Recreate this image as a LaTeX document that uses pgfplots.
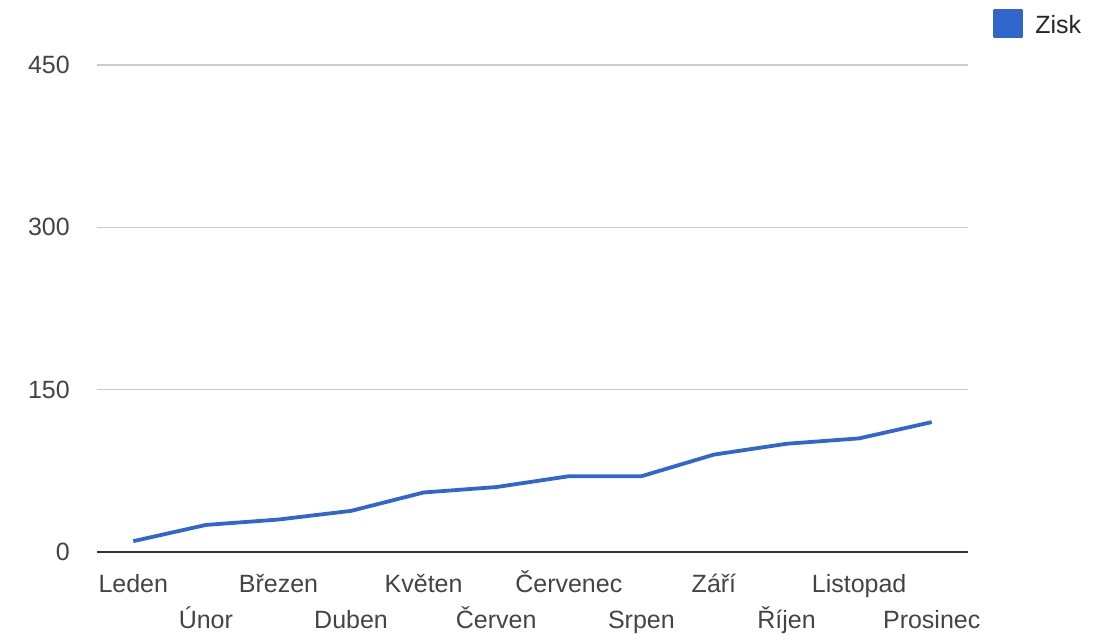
\documentclass[border=0pt]{standalone}
\usepackage{fontspec}
\setmainfont{Liberation Sans}
\usepackage{pgfplots}
\pgfplotsset{compat=1.18}
\definecolor{lineblue}{HTML}{3366CC}
\definecolor{labgray}{HTML}{444444}
\begin{document}
\begin{tikzpicture}
\path[use as bounding box] (0,0) rectangle (1113bp,642bp);
\begin{axis}[
 at={(97bp,90bp)}, anchor=south west,
 scale only axis, width=871bp, height=487bp,
 xmin=-0.5, xmax=11.5, ymin=0, ymax=450,
 clip=false,
 axis line style={draw=none},
 ytick={150,300,450},
 ymajorgrids, grid style={color=black!20, line width=1.2bp},
 extra y ticks={0},
 extra y tick style={grid=major, major grid style={color=black!80, line width=2.5bp}},
 major tick length=0pt,
 /pgf/number format/assume math mode=true,
 tick label style={font=\fontsize{25bp}{30bp}\selectfont, text=labgray},
 yticklabel style={anchor=east, inner sep=0pt, xshift=-27bp},
 xtick={0,2,4,6,8,10},
 xticklabels={Leden,Březen,Květen,Červenec,Září,Listopad},
 extra x ticks={1,3,5,7,9,11},
 extra x tick labels={Únor,Duben,Červen,Srpen,Říjen,Prosinec},
 xticklabel style={anchor=base, inner sep=0pt, yshift=-40bp},
 extra x tick style={grid=none, xticklabel style={yshift=-36bp}},
 legend style={at={(1.029,1.085)}, anchor=west, draw=none, fill=none,
   inner sep=0pt, column sep=12bp, font=\fontsize{25bp}{30bp}\selectfont,
   text=black!85, nodes={inner sep=0pt}},
 legend image code/.code={\fill[lineblue] (0bp,-11.5bp) rectangle (26bp,14.5bp);},
]
\addplot[lineblue, line width=3.8bp, line join=round] coordinates {
(0,10)(1,25)(2,30)(3,38)(4,55)(5,60)(6,70)(7,70)(8,90)(9,100)(10,105)(11,120)};
\addlegendentry{Zisk}
\end{axis}
\end{tikzpicture}
\end{document}
